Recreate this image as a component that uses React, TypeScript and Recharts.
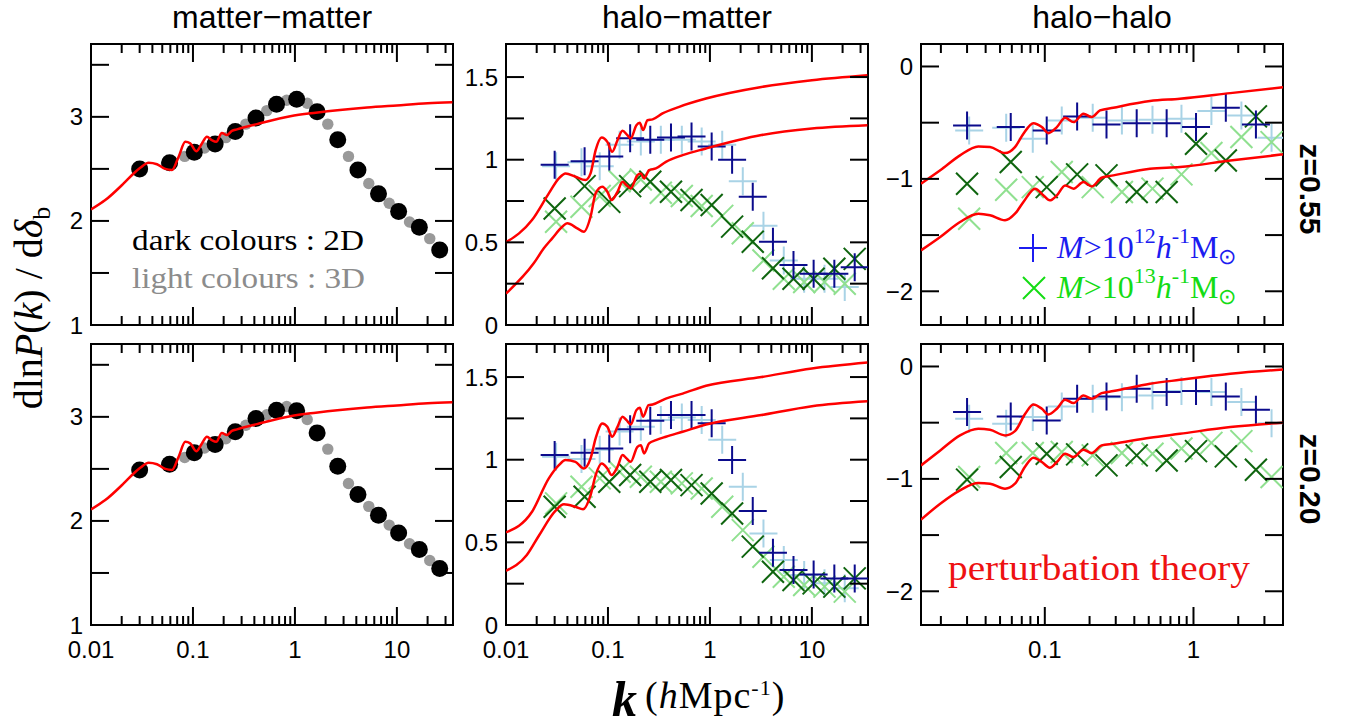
import React from 'react';
import { ComposedChart, Line, Scatter, XAxis, YAxis } from 'recharts';

// ---------------- data ----------------
// k bins (h/Mpc) of the 2D (dark) and 3D (light) measurements
const K_2D = [0.03, 0.059, 0.103, 0.165, 0.26, 0.415, 0.66, 1.04, 1.65, 2.63, 4.15, 6.6, 10.4, 16.6, 26.3];
const K_3D = [0.031, 0.055, 0.083, 0.13, 0.21, 0.33, 0.53, 0.83, 1.32, 2.1, 3.35, 5.3, 8.4, 13.3, 21];

// matter-matter
const MM_Z055_2D = [2.5, 2.56, 2.66, 2.74, 2.86, 2.99, 3.12, 3.17, 3.05, 2.78, 2.49, 2.26, 2.09, 1.94, 1.72];
const MM_Z055_3D = [2.5, 2.55, 2.62, 2.7, 2.8, 2.93, 3.06, 3.16, 3.13, 2.93, 2.62, 2.36, 2.17, 1.99, 1.83];
const MM_Z020_2D = [2.49, 2.545, 2.654, 2.735, 2.856, 2.985, 3.064, 3.058, 2.846, 2.526, 2.254, 2.055, 1.885, 1.725, 1.542];
const MM_Z020_3D = [2.49, 2.54, 2.61, 2.7, 2.79, 2.92, 3.02, 3.1, 2.975, 2.69, 2.36, 2.14, 1.96, 1.78, 1.62];
const PT_MM_K = [0.01, 0.0138, 0.0209, 0.0262, 0.0304, 0.0367, 0.0444, 0.0535, 0.0622, 0.0722, 0.0841, 0.094, 0.1077, 0.1225, 0.137, 0.1535, 0.169, 0.192, 0.215, 0.241, 0.27, 0.424, 0.9, 1.6, 5.1, 10, 20, 35];
const PT_MM = [2.11, 2.2, 2.36, 2.456, 2.51, 2.56, 2.545, 2.5, 2.49, 2.615, 2.76, 2.745, 2.67, 2.745, 2.81, 2.775, 2.76, 2.845, 2.825, 2.865, 2.88, 2.93, 3.006, 3.04, 3.09, 3.11, 3.13, 3.14];

// halo-matter, z=0.55
const HM_Z055_M12_2D = [0.97, 0.99, 1.02, 1.13, 1.12, 1.135, 1.14, 1.08, 1.0, 0.776, 0.504, 0.363, 0.31, 0.31, 0.35];
const HM_Z055_M12_3D = [0.96, 0.985, 0.96, 1.09, 1.11, 1.12, 1.12, 1.11, 1.09, 0.87, 0.6, 0.39, 0.28, 0.28, 0.23];
const HM_Z055_M13_2D = [0.705, 0.84, 0.745, 0.84, 0.867, 0.806, 0.756, 0.726, 0.595, 0.504, 0.343, 0.28, 0.28, 0.34, 0.4];
const HM_Z055_M13_3D = [0.625, 0.715, 0.78, 0.87, 0.88, 0.8, 0.78, 0.72, 0.66, 0.555, 0.39, 0.28, 0.26, 0.26, 0.25];
const PT_HM_Z055_M12_K = [0.01, 0.018, 0.0263, 0.033, 0.0384, 0.048, 0.0603, 0.0675, 0.0757, 0.0867, 0.0986, 0.11, 0.124, 0.1387, 0.155, 0.167, 0.19, 0.205, 0.221, 0.244, 0.274, 0.343, 0.5, 0.916, 3.2, 10, 35];
const PT_HM_Z055_M12 = [0.5, 0.635, 0.796, 0.887, 0.917, 0.897, 0.877, 0.917, 1.058, 1.135, 1.108, 1.048, 1.118, 1.175, 1.149, 1.129, 1.209, 1.223, 1.179, 1.239, 1.244, 1.28, 1.32, 1.37, 1.44, 1.481, 1.511];
const PT_HM_Z055_M13_K = [0.01, 0.0187, 0.0235, 0.0284, 0.0356, 0.0398, 0.05, 0.058, 0.0675, 0.0757, 0.088, 0.0986, 0.1086, 0.124, 0.139, 0.152, 0.167, 0.1945, 0.21, 0.226, 0.253, 0.295, 0.37, 0.54, 0.916, 3.2, 10, 35];
const PT_HM_Z055_M13 = [0.19, 0.373, 0.464, 0.524, 0.594, 0.615, 0.585, 0.564, 0.655, 0.796, 0.836, 0.806, 0.756, 0.806, 0.866, 0.846, 0.826, 0.907, 0.917, 0.887, 0.937, 0.947, 0.987, 1.028, 1.068, 1.149, 1.189, 1.209];

// halo-matter, z=0.20
const HM_Z020_M12_2D = [1.028, 1.042, 1.068, 1.185, 1.235, 1.27, 1.27, 1.22, 0.998, 0.69, 0.437, 0.333, 0.306, 0.282, 0.282];
const HM_Z020_M12_3D = [1.018, 1.005, 1.06, 1.17, 1.2, 1.24, 1.255, 1.24, 1.12, 0.836, 0.554, 0.393, 0.302, 0.252, 0.222];
const HM_Z020_M13_2D = [0.715, 0.776, 0.867, 0.907, 0.867, 0.877, 0.846, 0.796, 0.675, 0.474, 0.322, 0.272, 0.252, 0.232, 0.282];
const HM_Z020_M13_3D = [0.736, 0.836, 0.887, 0.927, 0.897, 0.867, 0.857, 0.826, 0.715, 0.574, 0.413, 0.292, 0.242, 0.232, 0.202];
const PT_HM_Z020_M12_K = [0.01, 0.018, 0.0263, 0.033, 0.0384, 0.048, 0.058, 0.0675, 0.0757, 0.088, 0.0986, 0.11, 0.124, 0.139, 0.152, 0.167, 0.19, 0.205, 0.221, 0.25, 0.274, 0.37, 0.54, 0.916, 3.2, 10, 35];
const PT_HM_Z020_M12 = [0.56, 0.685, 0.887, 0.967, 0.998, 0.987, 0.947, 1.008, 1.129, 1.219, 1.199, 1.139, 1.199, 1.26, 1.239, 1.213, 1.3, 1.314, 1.26, 1.33, 1.334, 1.37, 1.4, 1.447, 1.5, 1.552, 1.588];
const PT_HM_Z020_M13_K = [0.01, 0.016, 0.021, 0.0305, 0.037, 0.048, 0.057, 0.0675, 0.0757, 0.0867, 0.0986, 0.1086, 0.124, 0.139, 0.152, 0.167, 0.1945, 0.21, 0.226, 0.253, 0.295, 0.37, 0.54, 0.916, 3.2, 10, 35];
const PT_HM_Z020_M13 = [0.328, 0.423, 0.54, 0.69, 0.73, 0.715, 0.7, 0.786, 0.907, 0.977, 0.947, 0.907, 0.957, 1.028, 1.008, 0.987, 1.078, 1.088, 1.038, 1.099, 1.118, 1.139, 1.169, 1.213, 1.27, 1.324, 1.354];

// halo-halo, z=0.55
const HH_Z055_M12_2D = [-0.524, -0.539, -0.569, -0.444, -0.516, -0.504, -0.504, -0.539, -0.367, -0.516];
const HH_Z055_M12_3D = [-0.569, -0.545, -0.643, -0.48, -0.456, -0.48, -0.474, -0.465, -0.397, -0.436, -0.634];
const HH_Z055_M13_2D = [-1.043, -0.85, -1.073, -0.96, -0.969, -1.117, -1.117, -0.687, -0.836, -0.444];
const HH_Z055_M13_3D = [-1.354, -1.096, -1.073, -0.939, -1.073, -1.117, -1.087, -0.96, -0.77, -0.628, -0.673];
const PT_HH_Z055_M12_K = [0.0147, 0.0198, 0.0269, 0.0357, 0.0428, 0.054, 0.063, 0.0718, 0.0838, 0.0955, 0.1057, 0.1205, 0.137, 0.156, 0.182, 0.207, 0.235, 0.289, 0.51, 0.81, 1.77, 4.0];
const PT_HH_Z055_M12 = [-1.043, -0.924, -0.791, -0.711, -0.717, -0.77, -0.717, -0.598, -0.504, -0.539, -0.593, -0.539, -0.456, -0.495, -0.42, -0.45, -0.391, -0.367, -0.308, -0.287, -0.237, -0.184];
const PT_HH_Z055_M13_K = [0.0147, 0.0198, 0.0269, 0.0357, 0.0428, 0.054, 0.063, 0.0718, 0.086, 0.098, 0.108, 0.1205, 0.137, 0.156, 0.182, 0.207, 0.241, 0.289, 0.51, 0.81, 1.77, 4.0];
const PT_HH_Z055_M13 = [-1.636, -1.517, -1.384, -1.31, -1.324, -1.369, -1.31, -1.206, -1.087, -1.147, -1.191, -1.147, -1.058, -1.087, -1.028, -1.067, -0.99, -0.969, -0.91, -0.895, -0.836, -0.782];

// halo-halo, z=0.20
const HH_Z020_M12_2D = [-0.406, -0.444, -0.48, -0.287, -0.267, -0.199, -0.228, -0.219, -0.267, -0.385];
const HH_Z020_M12_3D = [-0.465, -0.51, -0.45, -0.356, -0.287, -0.273, -0.258, -0.219, -0.228, -0.317, -0.504];
const HH_Z020_M13_2D = [-1.007, -0.895, -0.776, -0.782, -0.88, -0.791, -0.836, -0.753, -0.8, -0.919];
const HH_Z020_M13_3D = [-0.984, -0.77, -0.77, -0.761, -0.791, -0.77, -0.776, -0.73, -0.68, -0.664, -0.984];
const PT_HH_Z020_M12_K = [0.0147, 0.0198, 0.0269, 0.0357, 0.0428, 0.054, 0.063, 0.0738, 0.0838, 0.0955, 0.1057, 0.1205, 0.137, 0.156, 0.182, 0.207, 0.241, 0.289, 0.51, 0.81, 1.77, 4.0];
const PT_HH_Z020_M12 = [-0.88, -0.747, -0.613, -0.554, -0.563, -0.613, -0.575, -0.421, -0.338, -0.376, -0.427, -0.376, -0.296, -0.326, -0.258, -0.287, -0.237, -0.219, -0.154, -0.119, -0.065, -0.027];
const PT_HH_Z020_M13_K = [0.0147, 0.0198, 0.0269, 0.0357, 0.0428, 0.054, 0.063, 0.0738, 0.0838, 0.0955, 0.108, 0.1205, 0.137, 0.156, 0.182, 0.207, 0.241, 0.289, 0.51, 0.81, 1.77, 4.0];
const PT_HH_Z020_M13 = [-1.363, -1.221, -1.102, -1.037, -1.043, -1.087, -1.043, -0.889, -0.812, -0.85, -0.9, -0.85, -0.776, -0.806, -0.74, -0.77, -0.702, -0.687, -0.634, -0.599, -0.539, -0.5];

// axis ticks
const X_MAJOR_WIDE = [0.01, 0.1, 1, 10];
const X_MINOR_WIDE = [0.02, 0.03, 0.04, 0.05, 0.06, 0.07, 0.08, 0.09, 0.2, 0.3, 0.4, 0.5, 0.6, 0.7, 0.8, 0.9, 2, 3, 4, 5, 6, 7, 8, 9, 20, 30];
const X_MAJOR_HH = [0.1, 1];
const X_MINOR_HH = [0.02, 0.03, 0.04, 0.05, 0.06, 0.07, 0.08, 0.09, 0.2, 0.3, 0.4, 0.5, 0.6, 0.7, 0.8, 0.9, 2, 3, 4];
const Y_TICKS_MM = [1, 1.5, 2, 2.5, 3, 3.5];
const Y_LABELS_MM = [1, 2, 3];
const Y_TICKS_HM = [0, 0.25, 0.5, 0.75, 1, 1.25, 1.5];
const Y_LABELS_HM = [0, 0.5, 1, 1.5];
const Y_TICKS_HH = [-2, -1.5, -1, -0.5, 0];
const Y_LABELS_HH = [-2, -1, 0];

// ---------------- styling ----------------
const SANS = '"Liberation Sans", Arial, Helvetica, sans-serif';
const SERIF = '"Liberation Serif", "Times New Roman", serif';
const RED = '#ff0000';
const DARK_BLUE = '#0b0b8c';
const LIGHT_BLUE = '#a9d3e6';
const DARK_GREEN = '#0f650f';
const LIGHT_GREEN = '#90e090';
const BLACK = '#000000';
const GREY = '#999999';

const PW = 362, PH = 281, YL = 50, YR = 10, XT = 10, XB = 44;
const TMAJ = 18, TMIN = 9;

type Kind = 'line' | 'dot' | 'plus' | 'cross';
type SeriesCfg = { kind: Kind; k: number[]; v: number[]; color: string; r?: number };
type PanelCfg = {
  left: number; top: number;
  xDomain: [number, number]; xMajor: number[]; xMinor: number[]; xLabels: boolean;
  yDomain: [number, number]; yTicks: number[]; yLabels: number[];
  series: SeriesCfg[];
};

const toPts = (ks: number[], vs: number[]) => vs.map((v, i) => ({ k: ks[i], v }));

const fmtNum = (v: number) => (v < 0 ? '\u2212' + String(Math.abs(v)) : String(v));

const plusShape = (color: string) => (s: any) => {
  const h = 14;
  return <path d={`M${s.cx - h},${s.cy}H${s.cx + h}M${s.cx},${s.cy - h}V${s.cy + h}`} stroke={color} strokeWidth={2} fill="none" />;
};
const crossShape = (color: string) => (s: any) => {
  const h = 11;
  return <path d={`M${s.cx - h},${s.cy - h}L${s.cx + h},${s.cy + h}M${s.cx - h},${s.cy + h}L${s.cx + h},${s.cy - h}`} stroke={color} strokeWidth={2} fill="none" />;
};
const dotShape = (color: string, r: number) => (s: any) => <circle cx={s.cx} cy={s.cy} r={r} fill={color} />;

const AXIS_LINE = { stroke: '#000', strokeWidth: 2, strokeLinecap: 'square' as const };

function Panel({ cfg }: { cfg: PanelCfg }) {
  const xTicks = [...cfg.xMajor, ...cfg.xMinor].sort((a, b) => a - b);
  const isMaj = (v: number) => cfg.xMajor.some((m) => Math.abs(v / m - 1) < 1e-6);
  const isYLab = (v: number) => cfg.yLabels.some((m) => Math.abs(v - m) < 1e-6);

  const tickBottom = (t: any) => {
    const v = t.payload.value;
    const len = isMaj(v) ? TMAJ : TMIN;
    return (
      <g>
        <line x1={t.x} x2={t.x} y1={t.y} y2={t.y - len} stroke="#000" strokeWidth={2} />
        {cfg.xLabels && isMaj(v) ? (
          <text x={t.x} y={t.y + 33} textAnchor="middle" fontFamily={SANS} fontSize={24} fill="#000">{fmtNum(v)}</text>
        ) : null}
      </g>
    );
  };
  const tickTop = (t: any) => {
    const v = t.payload.value;
    const len = isMaj(v) ? TMAJ : TMIN;
    return <line x1={t.x} x2={t.x} y1={t.y} y2={t.y + len} stroke="#000" strokeWidth={2} />;
  };
  const tickLeft = (t: any) => {
    const v = t.payload.value;
    return (
      <g>
        <line x1={t.x} x2={t.x + TMAJ} y1={t.y} y2={t.y} stroke="#000" strokeWidth={2} />
        {isYLab(v) ? (
          <text x={t.x - 8} y={t.y + 8.5} textAnchor="end" fontFamily={SANS} fontSize={24} fill="#000">{fmtNum(v)}</text>
        ) : null}
      </g>
    );
  };
  const tickRight = (t: any) => (
    <line x1={t.x} x2={t.x - TMAJ} y1={t.y} y2={t.y} stroke="#000" strokeWidth={2} />
  );

  return (
    <div style={{ position: 'absolute', left: cfg.left - YL, top: cfg.top - XT }}>
      <ComposedChart width={PW + YL + YR} height={PH + XT + XB} margin={{ top: 0, right: 0, bottom: 0, left: 0 }}>
        <XAxis xAxisId="b" orientation="bottom" type="number" dataKey="k" scale="log" domain={cfg.xDomain} allowDataOverflow
          ticks={xTicks} interval={0} height={XB} tickSize={0} tickMargin={0} tickLine={false} axisLine={AXIS_LINE} tick={tickBottom} />
        <XAxis xAxisId="t" orientation="top" type="number" dataKey="k" scale="log" domain={cfg.xDomain} allowDataOverflow
          ticks={xTicks} interval={0} height={XT} tickSize={0} tickMargin={0} tickLine={false} axisLine={AXIS_LINE} tick={tickTop} />
        <YAxis yAxisId="l" orientation="left" type="number" dataKey="v" domain={cfg.yDomain} allowDataOverflow
          ticks={cfg.yTicks} interval={0} width={YL} tickSize={0} tickMargin={0} tickLine={false} axisLine={AXIS_LINE} tick={tickLeft} />
        <YAxis yAxisId="r" orientation="right" type="number" dataKey="v" domain={cfg.yDomain} allowDataOverflow
          ticks={cfg.yTicks} interval={0} width={YR} tickSize={0} tickMargin={0} tickLine={false} axisLine={AXIS_LINE} tick={tickRight} />
        {cfg.series.map((s, i) => {
          const data = toPts(s.k, s.v);
          if (s.kind === 'line') {
            return (
              <Line key={i} xAxisId="b" yAxisId="l" data={data} dataKey="v" type="monotone" stroke={s.color} strokeWidth={2.5}
                dot={false} activeDot={false} isAnimationActive={false} zIndex={700} />
            );
          }
          const shape = s.kind === 'plus' ? plusShape(s.color) : s.kind === 'cross' ? crossShape(s.color) : dotShape(s.color, s.r || 6);
          return <Scatter key={i} xAxisId="b" yAxisId="l" data={data} dataKey="v" shape={shape} isAnimationActive={false} />;
        })}
      </ComposedChart>
    </div>
  );
}

const COLS = [91, 506, 921];
const ROWS = [44, 344];
const XD_WIDE: [number, number] = [0.01, 35.5];
const XD_HH: [number, number] = [0.0147, 4.0];

const hmSeries = (m12_3d: number[], m13_3d: number[], m13_2d: number[], m12_2d: number[], hiK: number[], hi: number[], loK: number[], lo: number[]): SeriesCfg[] => [
  { kind: 'plus', k: K_3D, v: m12_3d, color: LIGHT_BLUE },
  { kind: 'cross', k: K_3D, v: m13_3d, color: LIGHT_GREEN },
  { kind: 'cross', k: K_2D, v: m13_2d, color: DARK_GREEN },
  { kind: 'plus', k: K_2D, v: m12_2d, color: DARK_BLUE },
  { kind: 'line', k: hiK, v: hi, color: RED },
  { kind: 'line', k: loK, v: lo, color: RED },
];

const PANELS: PanelCfg[] = [
  {
    left: COLS[0], top: ROWS[0], xDomain: XD_WIDE, xMajor: X_MAJOR_WIDE, xMinor: X_MINOR_WIDE, xLabels: false,
    yDomain: [1, 3.7], yTicks: Y_TICKS_MM, yLabels: Y_LABELS_MM,
    series: [
      { kind: 'dot', k: K_3D, v: MM_Z055_3D, color: GREY, r: 5.7 },
      { kind: 'dot', k: K_2D, v: MM_Z055_2D, color: BLACK, r: 8.5 },
      { kind: 'line', k: PT_MM_K, v: PT_MM, color: RED },
    ],
  },
  {
    left: COLS[1], top: ROWS[0], xDomain: XD_WIDE, xMajor: X_MAJOR_WIDE, xMinor: X_MINOR_WIDE, xLabels: false,
    yDomain: [0, 1.7], yTicks: Y_TICKS_HM, yLabels: Y_LABELS_HM,
    series: hmSeries(HM_Z055_M12_3D, HM_Z055_M13_3D, HM_Z055_M13_2D, HM_Z055_M12_2D, PT_HM_Z055_M12_K, PT_HM_Z055_M12, PT_HM_Z055_M13_K, PT_HM_Z055_M13),
  },
  {
    left: COLS[2], top: ROWS[0], xDomain: XD_HH, xMajor: X_MAJOR_HH, xMinor: X_MINOR_HH, xLabels: false,
    yDomain: [-2.3, 0.2], yTicks: Y_TICKS_HH, yLabels: Y_LABELS_HH,
    series: hmSeries(HH_Z055_M12_3D, HH_Z055_M13_3D, HH_Z055_M13_2D, HH_Z055_M12_2D, PT_HH_Z055_M12_K, PT_HH_Z055_M12, PT_HH_Z055_M13_K, PT_HH_Z055_M13),
  },
  {
    left: COLS[0], top: ROWS[1], xDomain: XD_WIDE, xMajor: X_MAJOR_WIDE, xMinor: X_MINOR_WIDE, xLabels: true,
    yDomain: [1, 3.7], yTicks: Y_TICKS_MM, yLabels: Y_LABELS_MM,
    series: [
      { kind: 'dot', k: K_3D, v: MM_Z020_3D, color: GREY, r: 5.7 },
      { kind: 'dot', k: K_2D, v: MM_Z020_2D, color: BLACK, r: 8.5 },
      { kind: 'line', k: PT_MM_K, v: PT_MM, color: RED },
    ],
  },
  {
    left: COLS[1], top: ROWS[1], xDomain: XD_WIDE, xMajor: X_MAJOR_WIDE, xMinor: X_MINOR_WIDE, xLabels: true,
    yDomain: [0, 1.7], yTicks: Y_TICKS_HM, yLabels: Y_LABELS_HM,
    series: hmSeries(HM_Z020_M12_3D, HM_Z020_M13_3D, HM_Z020_M13_2D, HM_Z020_M12_2D, PT_HM_Z020_M12_K, PT_HM_Z020_M12, PT_HM_Z020_M13_K, PT_HM_Z020_M13),
  },
  {
    left: COLS[2], top: ROWS[1], xDomain: XD_HH, xMajor: X_MAJOR_HH, xMinor: X_MINOR_HH, xLabels: true,
    yDomain: [-2.3, 0.2], yTicks: Y_TICKS_HH, yLabels: Y_LABELS_HH,
    series: hmSeries(HH_Z020_M12_3D, HH_Z020_M13_3D, HH_Z020_M13_2D, HH_Z020_M12_2D, PT_HH_Z020_M12_K, PT_HH_Z020_M12, PT_HH_Z020_M13_K, PT_HH_Z020_M13),
  },
];

function Overlay() {
  const lp = { x: 1033, y: 248 };
  const lc = { x: 1034, y: 288 };
  return (
    <svg width={1348} height={726} style={{ position: 'absolute', left: 0, top: 0, pointerEvents: 'none' }}>
      {/* column titles */}
      <text x={272} y={28} textAnchor="middle" fontFamily={SANS} fontSize={32} fill="#000">matter−matter</text>
      <text x={687} y={28} textAnchor="middle" fontFamily={SANS} fontSize={32} fill="#000">halo−matter</text>
      <text x={1102} y={28} textAnchor="middle" fontFamily={SANS} fontSize={32} fill="#000">halo−halo</text>
      {/* row labels */}
      <text transform="translate(1310,189) rotate(90)" textAnchor="middle" dominantBaseline="central" fontFamily={SANS} fontWeight="bold" fontSize={30} fill="#000">z=0.55</text>
      <text transform="translate(1310,479) rotate(90)" textAnchor="middle" dominantBaseline="central" fontFamily={SANS} fontWeight="bold" fontSize={30} fill="#000">z=0.20</text>
      {/* y label */}
      <text transform="translate(42,308) rotate(-90)" textAnchor="middle" fontFamily={SERIF} fontSize={40} fill="#000">
        dln<tspan fontStyle="italic">P</tspan>(<tspan fontStyle="italic">k</tspan>) / d<tspan fontStyle="italic">δ</tspan>
        <tspan fontSize={26} dy={8}>b</tspan>
      </text>
      {/* x label */}
      <text x={612} y={716} fontFamily={SERIF} fill="#000">
        <tspan fontSize={50} fontStyle="italic" fontWeight="bold">k</tspan>
      </text>
      <text x={645} y={708} fontFamily={SERIF} fill="#000" fontSize={38} letterSpacing={1}>
        (<tspan fontStyle="italic">h</tspan>Mpc<tspan fontSize={22} dy={-13}>-1</tspan><tspan dy={13}>)</tspan>
      </text>
      {/* matter panel annotations */}
      <text x={132} y={250} fontFamily={SERIF} fontSize={29} fill="#000" textLength={232} lengthAdjust="spacingAndGlyphs">dark colours : 2D</text>
      <text x={132} y={288} fontFamily={SERIF} fontSize={29} fill="#8c8c8c" textLength={233} lengthAdjust="spacingAndGlyphs">light colours : 3D</text>
      {/* halo-halo legend */}
      <path d={`M${lp.x - 14},${lp.y}H${lp.x + 14}M${lp.x},${lp.y - 14}V${lp.y + 14}`} stroke="#1c1cf0" strokeWidth={2} fill="none" />
      <text x={1057} y={258} fontFamily={SERIF} fontSize={32} fill="#1c1cf0">
        <tspan fontStyle="italic">M</tspan>&gt;10<tspan fontSize={22} dy={-15}>12</tspan><tspan dy={15} fontStyle="italic">h</tspan><tspan fontSize={22} dy={-15}>-1</tspan><tspan dy={15}>M</tspan><tspan fontSize={22} dy={6}>⊙</tspan>
      </text>
      <path d={`M${lc.x - 11},${lc.y - 11}L${lc.x + 11},${lc.y + 11}M${lc.x - 11},${lc.y + 11}L${lc.x + 11},${lc.y - 11}`} stroke="#14dc14" strokeWidth={2} fill="none" />
      <text x={1057} y={298} fontFamily={SERIF} fontSize={32} fill="#14dc14">
        <tspan fontStyle="italic">M</tspan>&gt;10<tspan fontSize={22} dy={-15}>13</tspan><tspan dy={15} fontStyle="italic">h</tspan><tspan fontSize={22} dy={-15}>-1</tspan><tspan dy={15}>M</tspan><tspan fontSize={22} dy={6}>⊙</tspan>
      </text>
      {/* perturbation theory */}
      <text x={948} y={580} fontFamily={SERIF} fontSize={35} fill="#ee1111" textLength={302} lengthAdjust="spacingAndGlyphs">perturbation theory</text>
    </svg>
  );
}

export default function App() {
  return (
    <div style={{ position: 'absolute', left: 0, top: 0, width: 1348, height: 726, background: '#fff', overflow: 'hidden' }}>
      {PANELS.map((c, i) => (
        <Panel key={i} cfg={c} />
      ))}
      <Overlay />
    </div>
  );
}
